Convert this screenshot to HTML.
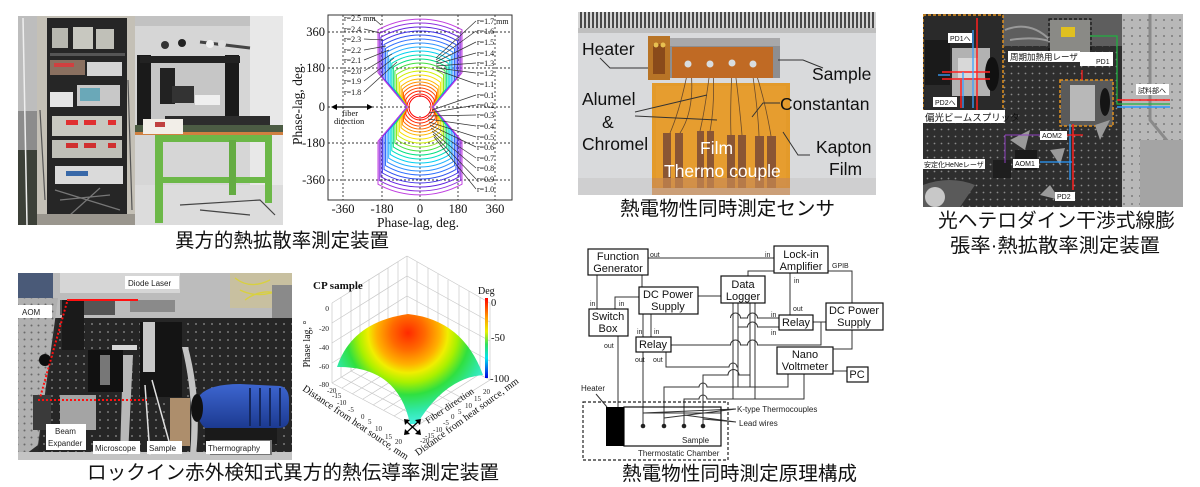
<!DOCTYPE html>
<html><head><meta charset="utf-8">
<style>
html,body{margin:0;padding:0;background:#fff;width:1200px;height:487px;overflow:hidden;}
svg{display:block;}
.cap{font-family:"Liberation Sans","Noto Sans CJK JP",sans-serif;font-size:19.5px;fill:#111;}
.sr{font-family:"Liberation Serif",serif;}
.sa{font-family:"Liberation Sans",sans-serif;}
.jp{font-family:"Liberation Sans","Noto Sans CJK JP",sans-serif;}
</style></head><body>
<svg width="1200" height="487" viewBox="0 0 1200 487" xmlns="http://www.w3.org/2000/svg">
<defs>
 <pattern id="holes" width="7" height="7" patternUnits="userSpaceOnUse"><circle cx="3.5" cy="3.5" r="0.9" fill="#8a8a8a"/></pattern>
 <pattern id="holes2" width="8" height="8" patternUnits="userSpaceOnUse"><circle cx="4" cy="4" r="1" fill="#7a7a7a"/></pattern>
 <pattern id="holesL" width="7" height="7" patternUnits="userSpaceOnUse"><circle cx="3.5" cy="3.5" r="1" fill="#6a6a6a"/></pattern>
 <pattern id="ruler" x="0" y="0" width="4" height="20" patternUnits="userSpaceOnUse"><rect width="4" height="20" fill="#d4d4d4"/><rect x="0" width="2" height="20" fill="#4a4a4a"/></pattern>
 <radialGradient id="surf" cx="408" cy="333" r="95" gradientUnits="userSpaceOnUse">
   <stop offset="0" stop-color="#ff2a00"/>
   <stop offset="0.18" stop-color="#ff6a00"/>
   <stop offset="0.33" stop-color="#ffb000"/>
   <stop offset="0.42" stop-color="#f0ee00"/>
   <stop offset="0.52" stop-color="#a8f000"/>
   <stop offset="0.65" stop-color="#30e040"/>
   <stop offset="0.82" stop-color="#30e8a8"/>
   <stop offset="1" stop-color="#50f4f4"/>
 </radialGradient>
 <linearGradient id="cbar" x1="0" y1="0" x2="0" y2="1">
   <stop offset="0" stop-color="#ff0000"/><stop offset="0.25" stop-color="#ffa000"/><stop offset="0.42" stop-color="#e8f000"/><stop offset="0.58" stop-color="#30e060"/><stop offset="0.75" stop-color="#00e0f0"/><stop offset="1" stop-color="#0000e0"/>
 </linearGradient>
 <linearGradient id="cam" x1="0" y1="0" x2="0" y2="1">
   <stop offset="0" stop-color="#3d66d0"/><stop offset="1" stop-color="#1c3a90"/>
 </linearGradient>
 <clipPath id="c1"><rect x="18" y="16" width="265" height="209"/></clipPath>
 <clipPath id="c2"><rect x="578" y="12" width="298" height="183"/></clipPath>
 <clipPath id="c3"><rect x="923" y="14" width="260" height="193"/></clipPath>
 <clipPath id="c4"><rect x="18" y="273" width="274" height="187"/></clipPath>
</defs>

<!-- ============ PHOTO 1 ============ -->
<g clip-path="url(#c1)">
 <rect x="18" y="16" width="265" height="209" fill="#d2d2d0"/>
 <rect x="18" y="16" width="20" height="209" fill="#8c8c8c"/>
 <rect x="18" y="16" width="20" height="95" fill="#bdbdbd"/>
 <rect x="18" y="150" width="20" height="75" fill="#3c4038"/>
 <path d="M23 18 L27 225" stroke="#eeeeee" stroke-width="1.5"/>
 <rect x="37" y="16" width="98" height="209" fill="#c4c0b6"/>
 <rect x="47" y="18" width="80" height="202" fill="#262626"/>
 <rect x="52" y="28" width="16" height="20" fill="#b8b8b0"/>
 <rect x="73" y="27" width="20" height="22" fill="#c8c8c0"/>
 <rect x="96" y="29" width="18" height="20" fill="#c0c0b8"/>
 <rect x="50" y="53" width="75" height="3" fill="#555"/>
 <rect x="50" y="60" width="35" height="15" fill="#8a7060"/>
 <rect x="54" y="63" width="20" height="4" fill="#d04040"/>
 <rect x="87" y="62" width="35" height="14" fill="#d4d4d4"/>
 <rect x="50" y="92" width="23" height="15" fill="#e4e4e4"/>
 <rect x="77" y="85" width="43" height="21" fill="#c8c8c8"/>
 <rect x="80" y="88" width="20" height="13" fill="#6aa8b8"/>
 <rect x="52" y="116" width="70" height="20" fill="#c8c8c0"/>
 <rect x="66" y="120" width="12" height="5" fill="#e03030"/><rect x="84" y="120" width="12" height="5" fill="#e03030"/><rect x="108" y="120" width="8" height="5" fill="#e03030"/>
 <rect x="52" y="140" width="70" height="18" fill="#c0c0b8"/>
 <rect x="66" y="143" width="12" height="5" fill="#d03030"/><rect x="84" y="143" width="12" height="5" fill="#d03030"/><rect x="108" y="143" width="8" height="5" fill="#d03030"/>
 <rect x="55" y="166" width="68" height="18" fill="#dadada"/>
 <rect x="66" y="171" width="22" height="5" fill="#3868a8"/>
 <path d="M55 190 L120 210 M60 200 L110 195 M70 215 L100 188" stroke="#777" stroke-width="1.2"/>
 <path d="M40 110 L45 200 M128 80 L132 210" stroke="#555" stroke-width="1.2"/>
 <rect x="37" y="214" width="98" height="11" fill="#9a968e"/>
 <rect x="135" y="16" width="148" height="209" fill="#d6d6d6"/>
 <rect x="250" y="16" width="33" height="209" fill="#e8e8e8"/>
 <rect x="135" y="16" width="115" height="10" fill="#c2c2c2"/>
 <rect x="135" y="185" width="148" height="40" fill="#dcdcdc"/>
 <path d="M180 205 L260 200 L275 215 M200 210 L250 215" stroke="#444" stroke-width="1.2" fill="none"/>
 <rect x="150" y="62" width="76" height="58" fill="#c6c6c6"/>
 <rect x="137" y="55" width="14" height="72" fill="#1a1a1a"/>
 <rect x="225" y="55" width="14" height="68" fill="#1a1a1a"/>
 <rect x="140" y="56" width="100" height="7" fill="#222"/>
 <rect x="160" y="68" width="15" height="36" fill="#222"/>
 <rect x="172" y="86" width="22" height="17" fill="#333"/>
 <rect x="195" y="95" width="25" height="10" fill="#efefef"/>
 <circle cx="165" cy="45" r="4" fill="#333"/><circle cx="182" cy="43" r="4" fill="#222"/>
 <path d="M200 42 L250 48" stroke="#444" stroke-width="3"/>
 <circle cx="210" cy="44" r="4" fill="#f0f0f0"/><circle cx="222" cy="44" r="4" fill="#ddd"/>
 <rect x="165" y="116" width="105" height="9" fill="#2c2c2c"/>
 <rect x="135" y="125" width="148" height="9" fill="#4c5c44"/>
 <rect x="135" y="132" width="148" height="3" fill="#d08040"/>
 <rect x="143" y="119" width="40" height="15" fill="#f2eee8"/>
 <rect x="155" y="122" width="10" height="5" fill="#c04040"/>
 <rect x="155" y="135" width="8" height="88" fill="#6cb848"/>
 <rect x="265" y="135" width="7" height="68" fill="#6cb848"/>
 <rect x="163" y="135" width="105" height="7" fill="#6cb848"/>
 <rect x="160" y="177" width="106" height="6" fill="#6cb848"/>
 <rect x="229" y="140" width="7" height="55" fill="#64ac42"/>
</g>

<!-- ============ PLOT 1 (phase-lag polar) ============ -->
<g>
 <rect x="328" y="15" width="184" height="185" fill="#fff" stroke="#333" stroke-width="1"/>
 <g stroke="#333" stroke-width="0.9" stroke-dasharray="2,2">
  <line x1="328" y1="32" x2="512" y2="32"/><line x1="328" y1="68" x2="512" y2="68"/><line x1="328" y1="107" x2="512" y2="107"/><line x1="328" y1="143" x2="512" y2="143"/><line x1="328" y1="180" x2="512" y2="180"/>
  <line x1="343" y1="15" x2="343" y2="200"/><line x1="382" y1="15" x2="382" y2="200"/><line x1="420" y1="15" x2="420" y2="200"/><line x1="458" y1="15" x2="458" y2="200"/><line x1="495" y1="15" x2="495" y2="200"/>
 </g>
 <g transform="translate(420,107)" fill="none" stroke-width="1">
  <circle r="11" stroke="#ff0000"/>
  <circle r="13" stroke="#ff1000"/>
  <path stroke="#ff2800" d="M-13,0 L-14.2,-6.2 L-14.2,-7.4 A16 16 0 0 1 14.2,-7.4 L14.2,-6.2 L13,0 L14.2,6.2 L14.2,7.4 A16 16 0 0 1 -14.2,7.4 L-14.2,6.2 Z"/>
  <path stroke="#ff4800" d="M-13,0 L-15.3,-7.4 L-15.3,-11.3 A19 19 0 0 1 15.3,-11.3 L15.3,-7.4 L13,0 L15.3,7.4 L15.3,11.3 A19 19 0 0 1 -15.3,11.3 L-15.3,7.4 Z"/>
  <path stroke="#ff6800" d="M-13,0 L-16.5,-8.6 L-16.5,-14.6 A22 22 0 0 1 16.5,-14.6 L16.5,-8.6 L13,0 L16.5,8.6 L16.5,14.6 A22 22 0 0 1 -16.5,14.6 L-16.5,8.6 Z"/>
  <path stroke="#ff9000" d="M-13,0 L-17.7,-9.8 L-17.7,-17.7 A25 25 0 0 1 17.7,-17.7 L17.7,-9.8 L13,0 L17.7,9.8 L17.7,17.7 A25 25 0 0 1 -17.7,17.7 L-17.7,9.8 Z"/>
  <path stroke="#ffb800" d="M-13,0 L-18.9,-10.9 L-18.9,-20.7 A28 28 0 0 1 18.9,-20.7 L18.9,-10.9 L13,0 L18.9,10.9 L18.9,20.7 A28 28 0 0 1 -18.9,20.7 L-18.9,10.9 Z"/>
  <path stroke="#f8e000" d="M-13,0 L-20.4,-12.5 L-20.4,-24.7 A32 32 0 0 1 20.4,-24.7 L20.4,-12.5 L13,0 L20.4,12.5 L20.4,24.7 A32 32 0 0 1 -20.4,24.7 L-20.4,12.5 Z"/>
  <path stroke="#d0f000" d="M-13,0 L-22,-14 L-22,-28.5 A36 36 0 0 1 22,-28.5 L22,-14 L13,0 L22,14 L22,28.5 A36 36 0 0 1 -22,28.5 L-22,14 Z"/>
  <path stroke="#90e820" d="M-13,0 L-23.5,-15.6 L-23.5,-32.4 A40 40 0 0 1 23.5,-32.4 L23.5,-15.6 L13,0 L23.5,15.6 L23.5,32.4 A40 40 0 0 1 -23.5,32.4 L-23.5,15.6 Z"/>
  <path stroke="#40e040" d="M-13,0 L-25.1,-17.2 L-25.1,-36.1 A44 44 0 0 1 25.1,-36.1 L25.1,-17.2 L13,0 L25.1,17.2 L25.1,36.1 A44 44 0 0 1 -25.1,36.1 L-25.1,17.2 Z"/>
  <path stroke="#00e080" d="M-13,0 L-26.7,-18.7 L-26.7,-39.9 A48 48 0 0 1 26.7,-39.9 L26.7,-18.7 L13,0 L26.7,18.7 L26.7,39.9 A48 48 0 0 1 -26.7,39.9 L-26.7,18.7 Z"/>
  <path stroke="#00e0c0" d="M-13,0 L-28.2,-20.3 L-28.2,-43.7 A52 52 0 0 1 28.2,-43.7 L28.2,-20.3 L13,0 L28.2,20.3 L28.2,43.7 A52 52 0 0 1 -28.2,43.7 L-28.2,20.3 Z"/>
  <path stroke="#00d0f0" d="M-13,0 L-29.8,-21.8 L-29.8,-47.4 A56 56 0 0 1 29.8,-47.4 L29.8,-21.8 L13,0 L29.8,21.8 L29.8,47.4 A56 56 0 0 1 -29.8,47.4 L-29.8,21.8 Z"/>
  <path stroke="#20b0ff" d="M-13,0 L-31.3,-23.4 L-31.3,-51.2 A60 60 0 0 1 31.3,-51.2 L31.3,-23.4 L13,0 L31.3,23.4 L31.3,51.2 A60 60 0 0 1 -31.3,51.2 L-31.3,23.4 Z"/>
  <path stroke="#3090ff" d="M-13,0 L-32.9,-25 L-32.9,-54.9 A64 64 0 0 1 32.9,-54.9 L32.9,-25 L13,0 L32.9,25 L32.9,54.9 A64 64 0 0 1 -32.9,54.9 L-32.9,25 Z"/>
  <path stroke="#3070ff" d="M-13,0 L-34.5,-26.5 L-34.5,-58.6 A68 68 0 0 1 34.5,-58.6 L34.5,-26.5 L13,0 L34.5,26.5 L34.5,58.6 A68 68 0 0 1 -34.5,58.6 L-34.5,26.5 Z"/>
  <path stroke="#3050f0" d="M-13,0 L-36,-28.1 L-36,-62.4 A72 72 0 0 1 36,-62.4 L36,-28.1 L13,0 L36,28.1 L36,62.4 A72 72 0 0 1 -36,62.4 L-36,28.1 Z"/>
  <path stroke="#4030e8" d="M-13,0 L-37.6,-29.6 L-37.6,-66 A76 76 0 0 1 37.6,-66 L37.6,-29.6 L13,0 L37.6,29.6 L37.6,66 A76 76 0 0 1 -37.6,66 L-37.6,29.6 Z"/>
  <path stroke="#6020e0" d="M-13,0 L-39.1,-31.2 L-39.1,-69.8 A80 80 0 0 1 39.1,-69.8 L39.1,-31.2 L13,0 L39.1,31.2 L39.1,69.8 A80 80 0 0 1 -39.1,69.8 L-39.1,31.2 Z"/>
  <path stroke="#9030e0" d="M-13,0 L-40.7,-32.8 L-40.7,-73.5 A84 84 0 0 1 40.7,-73.5 L40.7,-32.8 L13,0 L40.7,32.8 L40.7,73.5 A84 84 0 0 1 -40.7,73.5 L-40.7,32.8 Z"/>
  <path stroke="#c040e0" d="M-13,0 L-42,-34.3 L-42,-77.2 A88 88 0 0 1 42,-77.2 L42,-34.3 L13,0 L42,34.3 L42,77.2 A88 88 0 0 1 -42,77.2 L-42,34.3 Z"/>
 </g>
 <circle cx="420" cy="107" r="9" fill="#fff"/>
 <!-- left labels -->
 <g class="sr" font-size="8" fill="#111">
  <text x="344" y="21">r=2.5 mm</text><text x="344" y="32">r=2.4</text><text x="344" y="42">r=2.3</text><text x="344" y="53">r=2.2</text><text x="344" y="63">r=2.1</text><text x="344" y="74">r=2.0</text><text x="344" y="84">r=1.9</text><text x="344" y="95">r=1.8</text>
 </g>
 <g stroke="#333" stroke-width="0.7">
  <line x1="373" y1="18" x2="381" y2="25"/><line x1="364" y1="29" x2="380" y2="33"/><line x1="364" y1="39" x2="383" y2="40"/><line x1="364" y1="50" x2="386" y2="46"/><line x1="364" y1="60" x2="389" y2="50"/><line x1="364" y1="71" x2="392" y2="54"/><line x1="364" y1="81" x2="394" y2="58"/><line x1="364" y1="92" x2="397" y2="62"/>
 </g>
 <g class="sr" font-size="8" fill="#111">
  <text x="477" y="24">r=1.7 mm</text><text x="477" y="34">r=1.6</text><text x="477" y="45">r=1.5</text><text x="477" y="56">r=1.4</text><text x="477" y="66">r=1.3</text><text x="477" y="76">r=1.2</text><text x="477" y="87">r=1.1</text>
  <text x="477" y="98">r=0.1</text><text x="477" y="108">r=0.2</text><text x="477" y="118">r=0.3</text><text x="477" y="129">r=0.4</text><text x="477" y="140">r=0.5</text><text x="477" y="150">r=0.6</text><text x="477" y="161">r=0.7</text><text x="477" y="171">r=0.8</text><text x="477" y="182">r=0.9</text><text x="477" y="192">r=1.0</text>
 </g>
 <g stroke="#333" stroke-width="0.7">
  <line x1="476" y1="21" x2="436" y2="58"/><line x1="476" y1="31" x2="436" y2="60"/><line x1="476" y1="42" x2="436" y2="62"/><line x1="476" y1="53" x2="436" y2="64"/><line x1="476" y1="63" x2="436" y2="66"/><line x1="476" y1="73" x2="437" y2="68"/><line x1="476" y1="84" x2="437" y2="70"/>
  <line x1="476" y1="95" x2="432" y2="110"/><line x1="476" y1="105" x2="429" y2="113"/><line x1="476" y1="115" x2="428" y2="116"/><line x1="476" y1="126" x2="428" y2="119"/><line x1="476" y1="137" x2="429" y2="122"/><line x1="476" y1="147" x2="430" y2="125"/><line x1="476" y1="158" x2="431" y2="128"/><line x1="476" y1="168" x2="432" y2="131"/><line x1="476" y1="179" x2="433" y2="134"/><line x1="476" y1="189" x2="434" y2="137"/>
 </g>
 <!-- fiber direction -->
 <line x1="334" y1="107" x2="370" y2="107" stroke="#000" stroke-width="1.2"/>
 <polygon points="331,107 337,104 337,110" fill="#000"/><polygon points="373,107 367,104 367,110" fill="#000"/>
 <text class="sr" x="342" y="116" font-size="8.5" fill="#111">fiber</text>
 <text class="sr" x="334" y="124" font-size="8.5" fill="#111">direction</text>
 <!-- tick labels -->
 <g class="sr" font-size="12.5" fill="#111" text-anchor="end">
  <text x="325" y="36">360</text><text x="325" y="72">180</text><text x="325" y="111">0</text><text x="325" y="147">-180</text><text x="325" y="184">-360</text>
 </g>
 <g class="sr" font-size="12.5" fill="#111" text-anchor="middle">
  <text x="343" y="213">-360</text><text x="382" y="213">-180</text><text x="420" y="213">0</text><text x="458" y="213">180</text><text x="495" y="213">360</text>
 </g>
 <text class="sr" x="418" y="227" font-size="13.5" fill="#111" text-anchor="middle">Phase-lag, deg.</text>
 <text class="sr" font-size="13.5" fill="#111" text-anchor="middle" transform="translate(302,104) rotate(-90)">Phase-lag, deg.</text>
</g>

<text class="cap" x="175" y="247" textLength="214" lengthAdjust="spacingAndGlyphs">異方的熱拡散率測定装置</text>

<!-- ============ PHOTO 2 ============ -->
<g clip-path="url(#c2)">
 <rect x="578" y="12" width="298" height="183" fill="#d9dadc"/>
 <rect x="578" y="12" width="298" height="20" fill="url(#ruler)"/>
 <rect x="578" y="28" width="298" height="5" fill="#bfbfbf"/>
 <rect x="578" y="178" width="298" height="17" fill="#cfcfd0"/>
 <rect x="652" y="83" width="138" height="105" fill="#e39a2a"/>
 <rect x="656" y="86" width="130" height="100" fill="#e8a034" opacity="0.6"/>
 <g fill="#8a5634">
  <rect x="663" y="133" width="8" height="55"/><rect x="675" y="133" width="8" height="55"/>
  <rect x="697" y="131" width="7" height="57"/><rect x="707" y="131" width="7" height="57"/>
  <rect x="727" y="135" width="8" height="53"/><rect x="738" y="135" width="8" height="53"/>
  <rect x="755" y="136" width="9" height="52"/><rect x="767" y="136" width="9" height="52"/>
 </g>
 <rect x="652" y="178" width="138" height="17" fill="#c98a52" opacity="0.7"/>
 <g stroke="#6a4a2a" stroke-width="0.8" fill="none">
  <path d="M688 70 Q680 110 670 133 M691 70 Q695 110 680 133"/>
  <path d="M710 70 Q705 110 700 131 M713 70 Q715 105 710 131"/>
  <path d="M732 70 Q730 110 731 135 M735 70 Q740 110 742 135"/>
  <path d="M752 70 Q758 110 759 136 M755 70 Q765 100 771 136"/>
 </g>
 <rect x="665" y="38" width="115" height="40" fill="#8e8e90"/>
 <rect x="665" y="38" width="115" height="8" fill="#a8a8aa"/>
 <rect x="672" y="47" width="101" height="31" fill="#c06a24"/>
 <circle cx="688" cy="64" r="3.5" fill="#d8dde0"/><circle cx="710" cy="64" r="3.5" fill="#d8dde0"/><circle cx="732" cy="63" r="3.5" fill="#d8dde0"/><circle cx="753" cy="64" r="3.5" fill="#d8dde0"/>
 <rect x="648" y="36" width="22" height="44" fill="#b87426"/>
 <rect x="653" y="44" width="12" height="30" fill="#8a4a1a"/>
 <circle cx="656" cy="45" r="2.5" fill="#e8c050"/><circle cx="663" cy="45" r="2.5" fill="#e8c050"/>
 <g class="sa" font-size="17.5" fill="#111">
  <text x="582" y="55">Heater</text>
  <text x="812" y="80">Sample</text>
  <text x="582" y="105">Alumel</text>
  <text x="602" y="128">&amp;</text>
  <text x="582" y="150">Chromel</text>
  <text x="780" y="110">Constantan</text>
  <text x="816" y="153">Kapton</text>
  <text x="829" y="175">Film</text>
 </g>
 <g class="sa" font-size="17.5" fill="#ffffff">
  <text x="700" y="154">Film</text>
  <text x="664" y="177">Thermo couple</text>
 </g>
 <g stroke="#333" stroke-width="1" fill="none">
  <path d="M600 58 L610 68 L648 68"/>
  <path d="M823 68 L803 60 L778 60"/>
  <path d="M635 112 L707 95 M635 116 L717 120"/>
  <path d="M780 103 L763 103 L752 117"/>
  <path d="M810 155 L798 155 L783 132"/>
 </g>
</g>
<text class="cap" x="620" y="215" textLength="215" lengthAdjust="spacingAndGlyphs">熱電物性同時測定センサ</text>

<!-- ============ PHOTO 3 ============ -->
<g clip-path="url(#c3)">
 <rect x="923" y="14" width="260" height="193" fill="#2e2e2e"/>
 <rect x="923" y="14" width="260" height="193" fill="url(#holes)"/>
 <rect x="1003" y="14" width="120" height="32" fill="#5e5e5e"/>
 <path d="M1005 30 Q1030 20 1050 40 M1010 40 Q1040 35 1060 45" stroke="#999" stroke-width="2" fill="none"/>
 <rect x="1122" y="14" width="61" height="193" fill="#b8b8b8"/>
 <rect x="1122" y="14" width="61" height="193" fill="url(#holes2)"/>
 <path d="M1150 14 L1150 120 L1183 160" stroke="#8a8a8a" stroke-width="3" fill="none"/>
 <rect x="1140" y="140" width="43" height="67" fill="#a4a4a4"/>
 <rect x="923" y="15" width="80" height="96" fill="#2a2a2a"/>
 <rect x="925" y="40" width="25" height="45" fill="#1a1a1a"/>
 <rect x="952" y="48" width="38" height="48" fill="#b2b2b2"/>
 <rect x="958" y="58" width="20" height="20" fill="#d8d8d8"/>
 <ellipse cx="992" cy="74" rx="7" ry="17" fill="#111"/>
 <rect x="923" y="15" width="80" height="96" fill="none" stroke="#e0901e" stroke-width="1.5" stroke-dasharray="3,2"/>
 <g stroke="#ff2020" stroke-width="1.5" fill="none">
  <line x1="977" y1="18" x2="977" y2="110"/><line x1="961" y1="80" x2="961" y2="108"/>
  <line x1="942" y1="72" x2="990" y2="72"/><line x1="942" y1="79" x2="990" y2="79"/>
 </g>
 <g stroke="#3aa0ff" stroke-width="1.3" fill="none">
  <line x1="973" y1="30" x2="973" y2="108"/><line x1="963" y1="72" x2="963" y2="108"/><line x1="938" y1="75" x2="950" y2="75"/>
 </g>
 <rect x="1050" y="20" width="40" height="32" fill="#8a8a86"/>
 <rect x="1061" y="27" width="14" height="10" fill="#e0c020"/>
 <rect x="1049" y="19" width="42" height="34" fill="none" stroke="#111" stroke-width="1.2" stroke-dasharray="3,2"/>
 <rect x="1061" y="80" width="52" height="46" fill="#5a5a5a"/>
 <rect x="1070" y="85" width="25" height="36" fill="#b8b8b8"/>
 <rect x="1060" y="80" width="53" height="46" fill="none" stroke="#e0901e" stroke-width="1.5" stroke-dasharray="3,2"/>
 <ellipse cx="1105" cy="102" rx="5" ry="14" fill="#151515"/>
 <path d="M1010 140 L1030 130 L1025 150 Z M1050 150 L1065 148 L1060 165Z M1040 195 L1060 200 L1050 185Z M1095 125 L1110 120 L1100 140Z" fill="#9a9a9a"/>
 <rect x="1015" y="150" width="22" height="20" fill="#1a1a1a"/>
 <rect x="993" y="160" width="18" height="18" fill="#1e1e1e"/>
 <path d="M923 185 Q950 175 975 185 L960 207 L923 207Z" fill="#5a5a5a"/>
 <circle cx="935" cy="197" r="10" fill="#c8c8c8"/>
 <path d="M1090 36 L1117 36 L1117 104 L1170 104" stroke="#20b040" stroke-width="1.3" fill="none"/>
 <line x1="1117" y1="100" x2="1170" y2="100" stroke="#ff2020" stroke-width="1.5"/>
 <line x1="1117" y1="107" x2="1170" y2="107" stroke="#2a9aff" stroke-width="1.5"/>
 <line x1="1073" y1="124" x2="1073" y2="190" stroke="#ff2020" stroke-width="1.5"/>
 <line x1="1070" y1="124" x2="1070" y2="180" stroke="#2a9aff" stroke-width="1.3"/>
 <line x1="1040" y1="162" x2="1072" y2="162" stroke="#2a9aff" stroke-width="1.3"/>
 <line x1="1065" y1="135" x2="1083" y2="135" stroke="#ff2020" stroke-width="1.3"/>
 <line x1="1082" y1="70" x2="1082" y2="80" stroke="#ff2020" stroke-width="1.3"/>
 <path d="M1005 135 L1040 135 M1005 135 L1005 163" stroke="#9040c0" stroke-width="1" fill="none"/>
 <g fill="#fff">
  <rect x="948" y="33" width="24" height="10"/>
  <rect x="1008" y="51" width="72" height="11"/>
  <rect x="1080" y="52" width="33" height="14"/>
  <rect x="933" y="97" width="24" height="10"/>
  <rect x="923" y="110" width="82" height="13"/>
  <rect x="1136" y="84" width="33" height="11"/>
  <rect x="1040" y="131" width="27" height="9"/>
  <rect x="1013" y="159" width="26" height="9"/>
  <rect x="923" y="159" width="62" height="10"/>
  <rect x="1055" y="192" width="20" height="9"/>
 </g>
 <g class="jp" font-size="7" fill="#111">
  <text x="950" y="41">PD1へ</text>
  <text x="1010" y="60" font-size="8.5">周期加熱用レーザ</text>
  <text x="1096" y="64">PD1</text>
  <text x="935" y="105">PD2へ</text>
  <text x="925" y="121" font-size="9.5">偏光ビームスプリッタ</text>
  <text x="1138" y="93">試料部へ</text>
  <text x="1042" y="138">AOM2</text>
  <text x="1015" y="166">AOM1</text>
  <text x="924" y="167">安定化HeNeレーザ</text>
  <text x="1057" y="199">PD2</text>
 </g>
</g>
<text class="cap" x="938" y="227" textLength="237" lengthAdjust="spacingAndGlyphs">光ヘテロダイン干渉式線膨</text>
<text class="cap" x="950" y="252" textLength="210" lengthAdjust="spacingAndGlyphs">張率·熱拡散率測定装置</text>

<!-- ============ PHOTO 4 ============ -->
<g clip-path="url(#c4)">
 <rect x="18" y="273" width="274" height="187" fill="#2a2a2a"/>
 <rect x="18" y="273" width="274" height="45" fill="#bcbcbc"/>
 <rect x="18" y="273" width="35" height="25" fill="#4a5a78"/>
 <rect x="60" y="273" width="120" height="20" fill="#d6d6d6"/>
 <rect x="230" y="273" width="62" height="35" fill="#c8c0a0"/>
 <path d="M235 278 Q250 290 270 280 M240 290 Q260 300 285 288 M245 300 Q265 285 290 298" stroke="#d8d040" stroke-width="1.3" fill="none"/>
 <rect x="272" y="285" width="20" height="60" fill="#8a8a8a"/>
 <polygon points="18,298 58,298 38,445 18,460" fill="#b0b0b0"/>
 <polygon points="18,298 58,298 38,445 18,460" fill="url(#holesL)"/>
 <polygon points="58,318 292,318 292,455 38,455 40,440" fill="#262626"/>
 <polygon points="58,318 292,318 292,455 38,455 40,440" fill="url(#holes2)"/>
 <rect x="18" y="452" width="274" height="8" fill="#c4c4c4"/>
 <rect x="130" y="300" width="45" height="12" fill="#8a8a8a"/>
 <rect x="60" y="300" width="55" height="15" fill="#555"/>
 <rect x="140" y="322" width="42" height="75" fill="#141414"/>
 <rect x="143" y="322" width="12" height="50" fill="#c8c8c8"/>
 <path d="M182 347 Q195 400 190 455 L196 455 Q202 400 188 347 Z" fill="#c4c4c4"/>
 <path d="M123 355 L133 355 L128 455 L120 455 Z" fill="#b8b8b8"/>
 <rect x="88" y="350" width="35" height="42" fill="#111"/>
 <rect x="100" y="355" width="10" height="30" fill="#777"/>
 <rect x="170" y="398" width="20" height="48" fill="#ad8e6c"/>
 <rect x="112" y="345" width="25" height="5" fill="#d8d8d8"/>
 <rect x="60" y="395" width="36" height="35" fill="#a4a4a4"/>
 <rect x="62" y="300" width="22" height="50" fill="#1a1a1a"/>
 <circle cx="45" cy="360" r="6" fill="#0d0d0d"/>
 <rect x="33" y="395" width="18" height="35" fill="#3a3a3a"/>
 <path d="M145 385 L150 455 M152 380 L170 445" stroke="#e0e0e0" stroke-width="1.5"/>
 <rect x="205" y="418" width="72" height="26" fill="#1a1a1a"/>
 <rect x="210" y="440" width="62" height="15" fill="#767676"/>
 <path d="M200 395 Q210 384 240 384 L280 386 Q289 388 289 400 L289 420 Q288 428 278 428 L205 428 Q196 420 197 405 Z" fill="url(#cam)"/>
 <path d="M250 388 L250 426 M260 388 L260 426 M270 388 L270 426 M280 388 L280 426" stroke="#15285e" stroke-width="2"/>
 <ellipse cx="197" cy="408" rx="6" ry="14" fill="#111"/>
 <line x1="67" y1="300" x2="138" y2="300" stroke="#ff1010" stroke-width="2"/>
 <line x1="67" y1="302" x2="40" y2="398" stroke="#ff1010" stroke-width="2" stroke-dasharray="2,2"/>
 <line x1="38" y1="400" x2="147" y2="400" stroke="#ff1010" stroke-width="2" stroke-dasharray="2,2"/>
 <g fill="#fff">
  <rect x="125" y="276" width="54" height="13"/>
  <rect x="18" y="305" width="34" height="13"/>
  <rect x="46" y="424" width="40" height="26"/>
  <rect x="93" y="441" width="47" height="13"/>
  <rect x="147" y="441" width="35" height="13"/>
  <rect x="206" y="441" width="64" height="13"/>
 </g>
 <g class="sa" font-size="8" fill="#222">
  <text x="128" y="286">Diode Laser</text>
  <text x="22" y="315">AOM</text>
  <text x="55" y="434">Beam</text>
  <text x="48" y="446">Expander</text>
  <text x="95" y="451">Microscope</text>
  <text x="149" y="451">Sample</text>
  <text x="208" y="451">Thermography</text>
 </g>
</g>
<text class="cap" x="87" y="479" textLength="412" lengthAdjust="spacingAndGlyphs">ロックイン赤外検知式異方的熱伝導率測定装置</text>

<!-- ============ 3D PLOT ============ -->
<g>
 <g stroke="#c8c8c8" stroke-width="0.7" fill="none">
  <line x1="332" y1="303" x2="332" y2="383"/><line x1="341" y1="297" x2="341" y2="377"/><line x1="351" y1="291" x2="351" y2="371"/><line x1="360" y1="285" x2="360" y2="365"/><line x1="369" y1="279" x2="369" y2="359"/><line x1="379" y1="274" x2="379" y2="354"/><line x1="388" y1="268" x2="388" y2="348"/><line x1="398" y1="262" x2="398" y2="342"/><line x1="407" y1="256" x2="407" y2="336"/>
  <line x1="332" y1="303" x2="407" y2="256"/><line x1="332" y1="323" x2="407" y2="276"/><line x1="332" y1="343" x2="407" y2="296"/><line x1="332" y1="363" x2="407" y2="316"/><line x1="332" y1="383" x2="407" y2="336"/>
  <line x1="417" y1="262" x2="417" y2="341"/><line x1="428" y1="268" x2="428" y2="347"/><line x1="438" y1="274" x2="438" y2="352"/><line x1="448" y1="280" x2="448" y2="358"/><line x1="459" y1="286" x2="459" y2="363"/><line x1="469" y1="291" x2="469" y2="369"/><line x1="480" y1="297" x2="480" y2="374"/><line x1="490" y1="303" x2="490" y2="380"/>
  <line x1="407" y1="256" x2="490" y2="303"/><line x1="407" y1="276" x2="490" y2="322"/><line x1="407" y1="296" x2="490" y2="341"/><line x1="407" y1="316" x2="490" y2="361"/><line x1="407" y1="336" x2="490" y2="380"/>
  <line x1="332" y1="383" x2="415" y2="427"/><line x1="415" y1="427" x2="490" y2="380"/>
  <line x1="341" y1="377" x2="425" y2="421"/><line x1="351" y1="371" x2="434" y2="415"/><line x1="360" y1="365" x2="444" y2="409"/><line x1="369" y1="359" x2="453" y2="403"/><line x1="379" y1="354" x2="462" y2="398"/>
  <line x1="342" y1="388" x2="417" y2="341"/><line x1="352" y1="394" x2="428" y2="347"/><line x1="363" y1="399" x2="438" y2="352"/><line x1="373" y1="405" x2="448" y2="358"/><line x1="384" y1="410" x2="459" y2="363"/><line x1="394" y1="416" x2="469" y2="369"/><line x1="405" y1="421" x2="480" y2="374"/>
 </g>
 <path d="M337 367 Q352 322 408 314 Q463 320 483 375 Q445 378 417 424 L410 424 Q398 366 337 367 Z" fill="url(#surf)"/>
 <rect x="485" y="298" width="3" height="80" fill="url(#cbar)"/>
 <text class="sr" x="313" y="289" font-size="11" font-weight="bold" fill="#111">CP sample</text>
 <text class="sr" x="478" y="294" font-size="10" fill="#111">Deg</text>
 <g class="sr" font-size="10.5" fill="#111">
  <text x="491" y="306">0</text><text x="491" y="341">-50</text><text x="490" y="382">-100</text>
 </g>
 <g class="sr" font-size="7.5" fill="#222" text-anchor="end">
  <text x="329" y="311">0</text><text x="329" y="331">-20</text><text x="329" y="350">-40</text><text x="329" y="369">-60</text><text x="329" y="387">-80</text>
 </g>
 <text class="sr" font-size="10" fill="#111" text-anchor="middle" transform="translate(310,344) rotate(-90)">Phase lag, °</text>
 <g class="sr" font-size="7" fill="#222">
  <text x="327" y="393">-20</text><text x="332" y="398">-15</text><text x="337" y="405">-10</text><text x="348" y="412">-5</text><text x="361" y="419">0</text><text x="368" y="424">5</text><text x="375" y="431">10</text><text x="385" y="439">15</text><text x="395" y="444">20</text>
 </g>
 <text class="sr" font-size="10" fill="#111" transform="translate(302,390) rotate(34)">Distance from heat source, mm</text>
 <g class="sr" font-size="7" fill="#222">
  <text x="420" y="443">-20</text><text x="425" y="438">-15</text><text x="433" y="432">-10</text><text x="443" y="425">-5</text><text x="451" y="419">0</text><text x="458" y="414">5</text><text x="465" y="408">10</text><text x="474" y="401">15</text><text x="483" y="394">20</text>
 </g>
 <text class="sr" font-size="10" fill="#111" transform="translate(418,456) rotate(-36)">Distance from heat source, mm</text>
 <text class="sr" font-size="9.5" fill="#111" transform="translate(428,424) rotate(-34)">Fiber direction</text>
 <g stroke="#000" stroke-width="1.3">
  <line x1="406" y1="421" x2="419" y2="433"/><line x1="419" y1="421" x2="406" y2="433"/>
 </g>
 <g fill="#000">
  <polygon points="404,419 410,420 405,425"/><polygon points="421,435 415,434 420,429"/>
  <polygon points="421,419 415,420 420,425"/><polygon points="404,435 410,434 405,429"/>
 </g>
</g>

<!-- ============ DIAGRAM ============ -->
<g fill="none" stroke="#333" stroke-width="1">
 <path d="M648 258 H774"/>
 <path d="M597 275 V309"/>
 <path d="M642 275 V287"/>
 <path d="M615 309 V297 H639"/>
 <path d="M618 336 V407"/>
 <path d="M698 296 H721"/>
 <path d="M643 314 V337 M651 314 V337"/>
 <path d="M748 276 V271 H774"/>
 <path d="M790 273 V315"/>
 <path d="M828 271 H852 V303"/>
 <path d="M813 322 H826"/>
 <path d="M821 322 V345 H757.5 A5 5 0 0 0 747.5 345 H740.5 A5 5 0 0 0 730.5 345 H671"/>
 <path d="M779 318 H757.5 A5 5 0 0 0 747.5 318 H740.5 A5 5 0 0 0 730.5 318"/>
 <path d="M779 327 H757.5 A5 5 0 0 0 747.5 327 H738"/>
 <path d="M852 330 V349 H833"/>
 <path d="M833 371 H847"/>
 <path d="M733 303 V399 M738 303 V387 M750 303 V387 M755 303 V399"/>
 <path d="M788 374 V387 H707 A4 4 0 0 0 699 387 H664 V426"/>
 <path d="M804 374 V399 H707 A4 4 0 0 0 699 399 H684 V426"/>
 <path d="M666 352 V367 H729 A4 4 0 0 1 737 367 H738"/>
 <path d="M703 426 V375 H728 A5.5 5.5 0 0 1 739 375 H750"/>
 <path d="M643 352 V426"/>
 <path d="M643 413 H721 M643 413 L736 409 M664 418 L736 409 M684 415 L736 422 M703 419 L736 422"/>
 <path d="M596 394 L607 407"/>
</g>
<rect x="583" y="402" width="145" height="58" fill="none" stroke="#222" stroke-width="1.2" stroke-dasharray="3,2"/>
<rect x="624" y="407" width="97" height="39" fill="none" stroke="#111" stroke-width="1.2"/>
<rect x="606" y="407" width="18" height="39" fill="#000"/>
<g fill="#222"><circle cx="643" cy="426" r="2.3"/><circle cx="664" cy="426" r="2.3"/><circle cx="684" cy="426" r="2.3"/><circle cx="703" cy="426" r="2.3"/></g>
<g fill="#fff" stroke="#111" stroke-width="1.2">
 <rect x="588" y="249" width="60" height="26"/>
 <rect x="774" y="246" width="54" height="27"/>
 <rect x="721" y="276" width="44" height="27"/>
 <rect x="639" y="287" width="59" height="27"/>
 <rect x="589" y="309" width="39" height="27"/>
 <rect x="636" y="337" width="35" height="15"/>
 <rect x="779" y="315" width="34" height="15"/>
 <rect x="826" y="303" width="57" height="27"/>
 <rect x="777" y="347" width="56" height="27"/>
 <rect x="847" y="367" width="21" height="15"/>
</g>
<g class="sa" font-size="11" fill="#111" text-anchor="middle">
 <text x="618" y="260">Function</text><text x="618" y="272">Generator</text>
 <text x="801" y="258">Lock-in</text><text x="801" y="270">Amplifier</text>
 <text x="743" y="288">Data</text><text x="743" y="300">Logger</text>
 <text x="668" y="298">DC Power</text><text x="668" y="310">Supply</text>
 <text x="608" y="320">Switch</text><text x="608" y="332">Box</text>
 <text x="653" y="348">Relay</text>
 <text x="796" y="326">Relay</text>
 <text x="854" y="314">DC Power</text><text x="854" y="326">Supply</text>
 <text x="805" y="358">Nano</text><text x="805" y="370">Voltmeter</text>
 <text x="857" y="378">PC</text>
</g>
<g class="sa" font-size="7" fill="#222">
 <text x="650" y="257">out</text><text x="765" y="257">in</text>
 <text x="590" y="306">in</text><text x="619" y="306">in</text>
 <text x="604" y="348">out</text>
 <text x="637" y="334">in</text><text x="654" y="334">in</text>
 <text x="635" y="362">out</text><text x="653" y="362">out</text>
 <text x="794" y="283">in</text><text x="793" y="311">out</text>
 <text x="832" y="268">GPIB</text>
 <text x="771" y="317">in</text><text x="771" y="335">in</text>
</g>
<g class="sa" font-size="8" fill="#222">
 <text x="581" y="391">Heater</text>
 <text x="737" y="412">K-type Thermocouples</text>
 <text x="739" y="426">Lead wires</text>
 <text x="682" y="443">Sample</text>
 <text x="638" y="456">Thermostatic Chamber</text>
</g>
<text class="cap" x="622" y="480" textLength="235" lengthAdjust="spacingAndGlyphs">熱電物性同時測定原理構成</text>
</svg>
</body></html>
